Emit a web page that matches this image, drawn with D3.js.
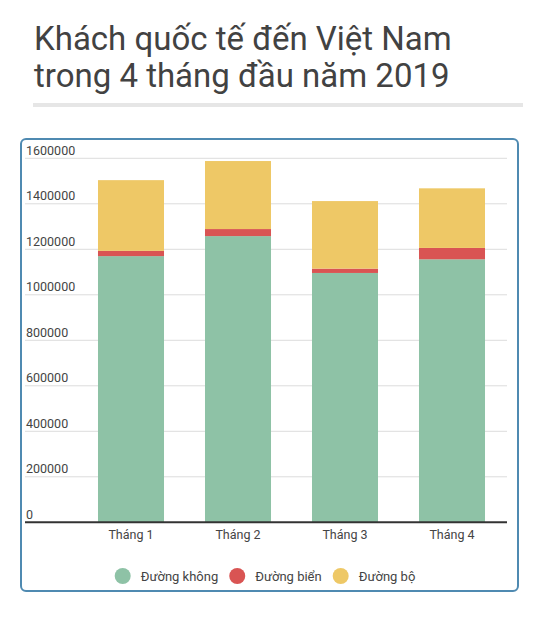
<!DOCTYPE html>
<html>
<head>
<meta charset="utf-8">
<script src="https://cdn.jsdelivr.net/npm/d3@7"></script>
<style>
  body { margin: 0; background: #fff; }
  text { font-family: Roboto, "Noto Sans", sans-serif; }
</style>
</head>
<body>
<svg id="chart" width="553" height="631"></svg>
<script>
// data
var months = ["Tháng 1", "Tháng 2", "Tháng 3", "Tháng 4"];
var duongKhong = [1170000, 1258000, 1096000, 1156000];
var duongBien = [23000, 31000, 19000, 50000];
var duongBo = [311000, 299000, 297000, 262000];
var seriesNames = ["Đường không", "Đường biển", "Đường bộ"];
var seriesColors = ["#8ec2a6", "#d95453", "#eec866"];
var yTicks = [0, 200000, 400000, 600000, 800000, 1000000, 1200000, 1400000, 1600000];
var titleLines = ["Khách quốc tế đến Việt Nam", "trong 4 tháng đầu năm 2019"];

var svg = d3.select("#chart");

// title
svg.selectAll(".title")
	.data(titleLines)
	.enter().append("text")
	.attr("class", "title")
	.attr("x", 34)
	.attr("y", function(d, i) { return 50 + i * 37; })
	.attr("font-size", 33)
	.attr("fill", "#424242")
	.text(function(d) { return d; });

svg.append("rect")
	.attr("x", 33).attr("y", 103)
	.attr("width", 490).attr("height", 4)
	.attr("fill", "#e6e6e6");

// frame
svg.append("rect")
	.attr("x", 21).attr("y", 139)
	.attr("width", 497).attr("height", 452)
	.attr("rx", 5)
	.attr("fill", "none")
	.attr("stroke", "#4f8ab1")
	.attr("stroke-width", 2);

var left = 25, right = 507;
var y = d3.scaleLinear().domain([0, 1600000]).range([522.3, 158.3]);
var x = d3.scaleBand().domain(months).range([77.5, 505.5])
	.paddingInner(0.383).paddingOuter(0.1915);

// gridlines + labels
svg.selectAll(".grid")
	.data(yTicks.slice(1))
	.enter().append("line")
	.attr("class", "grid")
	.attr("x1", left).attr("x2", right)
	.attr("y1", function(d) { return y(d); })
	.attr("y2", function(d) { return y(d); })
	.attr("stroke", "#dcdcdc")
	.attr("stroke-width", 1);

svg.selectAll(".ylab")
	.data(yTicks)
	.enter().append("text")
	.attr("class", "ylab")
	.attr("x", left + 1)
	.attr("y", function(d) { return y(d) - 3.5; })
	.attr("font-size", 12.5)
	.attr("fill", "#444")
	.text(function(d) { return d; });

// stacked bars
var table = months.map(function(m, i) {
	return { month: m, a: duongKhong[i], b: duongBien[i], c: duongBo[i] };
});
var stack = d3.stack().keys(["a", "b", "c"])(table);

svg.selectAll(".layer")
	.data(stack)
	.enter().append("g")
	.attr("class", "layer")
	.attr("fill", function(d, i) { return seriesColors[i]; })
	.selectAll("rect")
	.data(function(d) { return d; })
	.enter().append("rect")
	.attr("x", function(d) { return x(d.data.month); })
	.attr("width", x.bandwidth())
	.attr("y", function(d) { return y(d[1]); })
	.attr("height", function(d) { return y(d[0]) - y(d[1]); });

// x axis
svg.append("line")
	.attr("x1", left).attr("x2", right)
	.attr("y1", y(0)).attr("y2", y(0))
	.attr("stroke", "#333")
	.attr("stroke-width", 2);

svg.selectAll(".xlab")
	.data(months)
	.enter().append("text")
	.attr("class", "xlab")
	.attr("x", function(d) { return x(d) + x.bandwidth() / 2; })
	.attr("y", 539)
	.attr("text-anchor", "middle")
	.attr("font-size", 12.5)
	.attr("fill", "#444")
	.text(function(d) { return d; });

// legend, centred under the plot
var legend = svg.append("g");
var pos = 0;
seriesNames.forEach(function(name, i) {
	legend.append("circle")
		.attr("cx", pos + 8).attr("cy", 576)
		.attr("r", 8)
		.attr("fill", seriesColors[i]);
	var t = legend.append("text")
		.attr("x", pos + 26).attr("y", 580.5)
		.attr("font-size", 13)
		.attr("fill", "#444")
		.text(name);
	pos += 26 + t.node().getComputedTextLength() + 11;
});
var legendW = pos - 11;
legend.attr("transform", "translate(" + (265 - legendW / 2) + ",0)");
</script>
</body>
</html>
